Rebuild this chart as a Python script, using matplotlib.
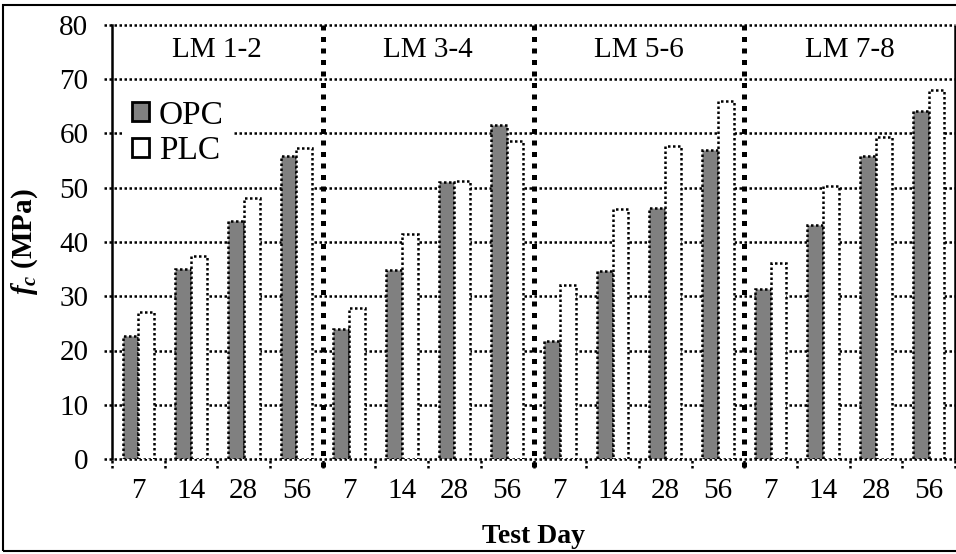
import matplotlib
matplotlib.use("Agg")
import matplotlib.pyplot as plt
from matplotlib.patches import Patch, Rectangle
import numpy as np

plt.rcParams['font.family'] = ['Liberation Serif', 'DejaVu Serif']
plt.rcParams['mathtext.fontset'] = 'custom'
plt.rcParams['mathtext.it'] = 'Liberation Serif:italic:bold'
plt.rcParams['mathtext.rm'] = 'Liberation Serif:bold'
plt.rcParams['mathtext.bf'] = 'Liberation Serif:bold'

# Test days and mix groups
days = ['7', '14', '28', '56']
groups = ['LM 1-2', 'LM 3-4', 'LM 5-6', 'LM 7-8']

# Compressive strength (MPa), ordered group by group, day by day
opc = [22.7, 35.0, 43.8, 55.9,
       23.9, 34.8, 51.0, 61.5,
       21.7, 34.6, 46.3, 56.9,
       31.3, 43.1, 55.8, 64.2]
plc = [27.1, 37.4, 48.1, 57.4,
       27.9, 41.5, 51.3, 58.7,
       32.1, 46.0, 57.7, 65.9,
       36.2, 50.4, 59.4, 68.1]

y_ticks = [0, 10, 20, 30, 40, 50, 60, 70, 80]

W, H = 956, 554
fig = plt.figure(figsize=(W / 100, H / 100), dpi=100)
left, right, top, bottom = 112, 955, 25, 459
ax = fig.add_axes([left / W, 1 - bottom / H, (right - left) / W, (bottom - top) / H])

n = len(opc)
x = np.arange(n)
bw = 0.30
dot = (0, (1, 1))
lw_dot = 1.8

ax.set_xlim(-0.5, n - 0.5)
ax.set_ylim(0, 80)

# horizontal dotted grid, reaching slightly left of the axis like tick marks
ax.hlines(y_ticks, -8 / (right - left), 1, transform=ax.get_yaxis_transform(),
          colors='black', linestyles=[dot], linewidth=lw_dot, clip_on=False, zorder=1)

ax.bar(x - bw / 2, opc, bw, color='#808080', edgecolor='black',
       linewidth=lw_dot, linestyle=dot, zorder=3, label='OPC')
ax.bar(x + bw / 2, plc, bw, color='white', edgecolor='black',
       linewidth=lw_dot, linestyle=dot, zorder=3, label='PLC')

# category boundary tick marks below the axis
bounds = np.arange(n + 1) - 0.5
ax.vlines(bounds, -9 / (bottom - top), 0, transform=ax.get_xaxis_transform(),
          colors='black', linestyles=[dot], linewidth=lw_dot, clip_on=False, zorder=4)

# group separators
ng = len(groups)
per = len(days)
for g in range(1, ng):
    ax.vlines(g * per - 0.5, -8 / (bottom - top), 1, transform=ax.get_xaxis_transform(),
              colors='black', linestyles=[(0, (1, 1.3))], linewidth=3.6,
              clip_on=False, zorder=5)

for g, name in enumerate(groups):
    ax.text(g * per + (per - 1) / 2, 75.3, name, ha='center', va='center',
            fontsize=21, zorder=6)

ax.set_xticks(x)
ax.set_xticklabels(days * ng, fontsize=21)
ax.set_yticks(y_ticks)
ax.set_yticklabels([str(v) for v in y_ticks], fontsize=21)
ax.tick_params(axis='x', length=0, pad=14)
ax.tick_params(axis='y', length=0, pad=17)

for s in ['top', 'bottom']:
    ax.spines[s].set_visible(False)
ax.spines['left'].set_linewidth(1.8)
ax.spines['left'].set_zorder(6)
ax.spines['right'].set_linestyle(dot)
ax.spines['right'].set_linewidth(lw_dot)

ax.set_xlabel('Test Day', fontsize=20, fontweight='bold', labelpad=14)
ax.set_ylabel(r'$f_c$ (MPa)', fontsize=21, fontweight='bold', labelpad=14)

handles = [Patch(facecolor='#808080', edgecolor='black', linewidth=2),
           Patch(facecolor='white', edgecolor='black', linewidth=2)]
leg = ax.legend(handles, ['OPC', 'PLC'], loc='upper left',
                bbox_to_anchor=(0.012, 0.85), fontsize=24, frameon=True,
                facecolor='white', edgecolor='none', framealpha=1,
                handlelength=0.5, handleheight=0.5, handletextpad=0.3,
                labelspacing=0.15, borderpad=0.3, borderaxespad=0, fancybox=False)
leg.set_zorder(7)

# outer frame of the figure
fig.patches.append(Rectangle((3 / W, 3 / H), 1.0, 1 - 8 / H, transform=fig.transFigure,
                             fill=False, edgecolor='black', linewidth=1.5))

fig.savefig('out.png', dpi=100)
